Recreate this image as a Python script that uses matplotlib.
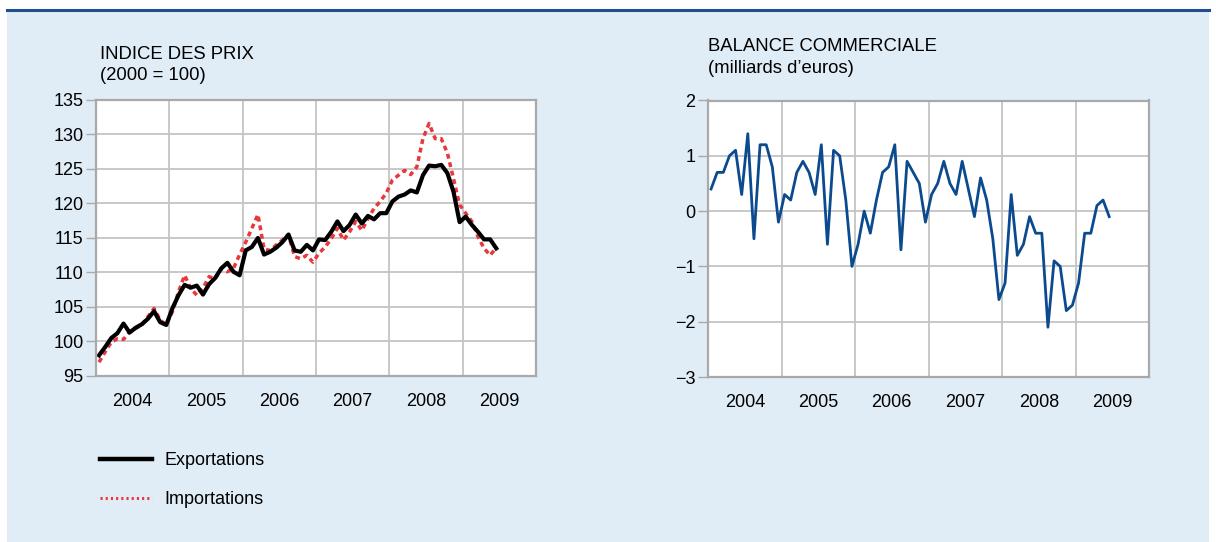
import numpy as np
import matplotlib
matplotlib.use('Agg')
import matplotlib.pyplot as plt
from matplotlib.patches import Rectangle
from matplotlib.lines import Line2D

plt.rcParams['font.family'] = ['Liberation Sans', 'DejaVu Sans']

# monthly data, Jan 2004 - Jun 2009
years = [2004, 2005, 2006, 2007, 2008, 2009]
n_months = 66

exports = [98.0, 99.2, 100.5, 101.2, 102.6, 101.3, 102.0, 102.5, 103.3, 104.4, 102.8, 102.4,
           104.8, 106.7, 108.2, 107.8, 108.1, 106.8, 108.3, 109.2, 110.6, 111.4, 110.1, 109.6,
           113.2, 113.7, 115.0, 112.6, 113.0, 113.6, 114.4, 115.5, 113.2, 113.0, 114.0, 113.2,
           114.8, 114.7, 115.9, 117.4, 116.0, 116.9, 118.4, 117.1, 118.2, 117.7, 118.6, 118.6,
           120.3, 121.0, 121.3, 121.9, 121.6, 124.1, 125.5, 125.4, 125.6, 124.4, 121.7, 117.3,
           118.1, 116.9, 115.9, 114.8, 114.8, 113.5]

imports = [97.0, 98.5, 99.9, 100.4, 100.3, 101.4, 101.9, 102.4, 103.6, 104.8, 103.1, 102.4,
           104.3, 107.2, 109.6, 107.7, 106.7, 107.7, 109.4, 109.1, 110.6, 110.1, 110.6, 112.6,
           114.4, 116.4, 118.4, 113.4, 113.2, 114.0, 114.7, 115.5, 112.3, 112.0, 112.5, 111.5,
           112.8, 113.7, 114.9, 116.4, 114.7, 115.9, 117.4, 116.1, 117.8, 119.3, 120.3, 121.5,
           123.4, 124.1, 124.8, 124.2, 125.3, 129.4, 131.6, 129.4, 129.4, 127.3, 123.6, 119.8,
           118.6, 117.4, 115.2, 113.5, 112.5, 113.6]

balance = [0.4, 0.7, 0.7, 1.0, 1.1, 0.3, 1.4, -0.5, 1.2, 1.2, 0.8, -0.2,
           0.3, 0.2, 0.7, 0.9, 0.7, 0.3, 1.2, -0.6, 1.1, 1.0, 0.2, -1.0,
           -0.6, 0.0, -0.4, 0.2, 0.7, 0.8, 1.2, -0.7, 0.9, 0.7, 0.5, -0.2,
           0.3, 0.5, 0.9, 0.5, 0.3, 0.9, 0.4, -0.1, 0.6, 0.2, -0.5, -1.6,
           -1.3, 0.3, -0.8, -0.6, -0.1, -0.4, -0.4, -2.1, -0.9, -1.0, -1.8, -1.7,
           -1.3, -0.4, -0.4, 0.1, 0.2, -0.1]

# months placed mid-month on a decimal-year axis
x = 2004 + (np.arange(n_months) + 0.5) / 12

bg = '#e1edf6'
grid_col = '#c4c4c4'
spine_col = '#a9a9a9'

W, H = 1216, 542
fig = plt.figure(figsize=(W / 100, H / 100), dpi=100)
fig.patch.set_facecolor('white')
fig.patches.append(Rectangle((7 / W, 0), 1202 / W, (H - 11) / H, transform=fig.transFigure,
                             facecolor=bg, edgecolor='none', zorder=-10))
fig.lines.append(Line2D([7 / W, 1209 / W], [(H - 10) / H] * 2, transform=fig.transFigure,
                        color='#1f4f8e', linewidth=2.2))


def style_axes(ax):
    ax.set_facecolor('white')
    ax.set_xlim(2004, 2010)
    ax.set_xticks(range(2004, 2011))
    ax.set_xticklabels([])
    ax.set_xticks([y + 0.5 for y in years], minor=True)
    ax.set_xticklabels([str(y) for y in years], minor=True)
    ax.tick_params(axis='x', which='both', length=0, labelsize=13, pad=12)
    ax.tick_params(axis='y', length=7, width=1, color=spine_col, labelsize=13, pad=2)
    ax.grid(True, color=grid_col, linewidth=1.3)
    ax.set_axisbelow(True)
    for s in ax.spines.values():
        s.set_color(spine_col)
        s.set_linewidth(1.6)


# left: price indices
ax1 = fig.add_axes([96 / W, (H - 376) / H, 440 / W, 276 / H])
style_axes(ax1)
ax1.set_ylim(95, 135)
ax1.set_yticks(range(95, 136, 5))
ax1.plot(x, imports, color='#e8383d', linewidth=2.5, linestyle=(0, (1.4, 1.1)))
ax1.plot(x, exports, color='black', linewidth=3.0)

fig.text(100 / W, 1 - 59 / H, 'INDICE DES PRIX', fontsize=13.3, ha='left', va='baseline')
fig.text(100 / W, 1 - 80 / H, '(2000 = 100)', fontsize=13.3, ha='left', va='baseline')

# legend
leg_exp = Line2D([], [], color='black', linewidth=3.2)
leg_imp = Line2D([], [], color='#e8383d', linewidth=2.2, linestyle=(0, (0.7, 1.0)))
fig.legend([leg_exp, leg_imp], ['Exportations', 'Importations'],
           loc='upper left', bbox_to_anchor=(84 / W, 1 - 436 / H), frameon=False,
           fontsize=13, handlelength=2.85, handletextpad=0.7, labelspacing=1.2)

# right: trade balance
ax2 = fig.add_axes([708 / W, (H - 377) / H, 441 / W, 276.5 / H])
style_axes(ax2)
ax2.set_ylim(-3, 2)
ax2.set_yticks(range(-3, 3))
ax2.plot(x, balance, color='#0b4a8e', linewidth=2.0)

fig.text(708 / W, 1 - 51 / H, 'BALANCE COMMERCIALE', fontsize=13.3, ha='left', va='baseline')
fig.text(708 / W, 1 - 73 / H, '(milliards d\u2019euros)', fontsize=13.3, ha='left', va='baseline')

fig.savefig('out.png', dpi=100, facecolor=fig.get_facecolor())
